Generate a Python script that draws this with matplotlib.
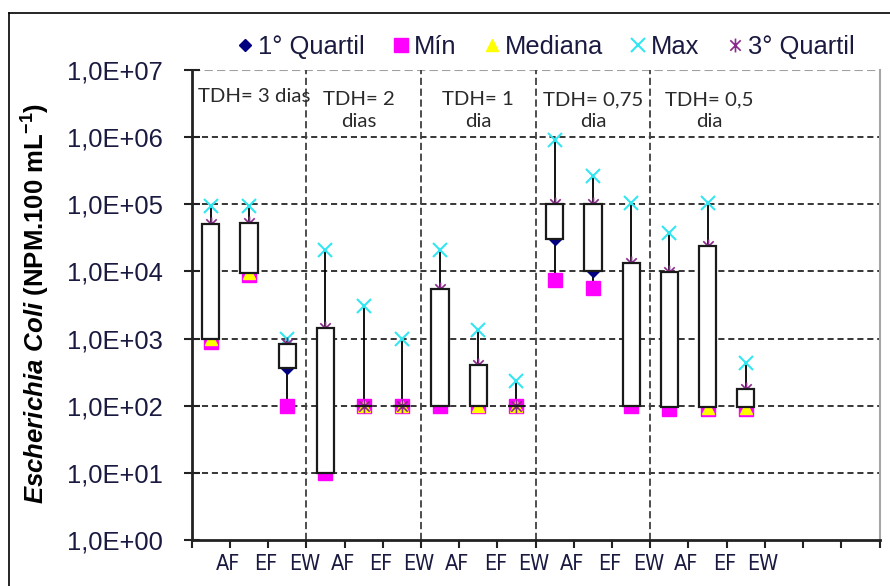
import numpy as np
import matplotlib.pyplot as plt
from matplotlib import font_manager
from matplotlib.path import Path
from matplotlib.patches import Rectangle
from matplotlib.lines import Line2D
from matplotlib.ticker import FixedLocator, FuncFormatter, NullLocator

plt.rcParams['font.family'] = ['Liberation Sans', 'DejaVu Sans']
plt.rcParams['mathtext.fontset'] = 'custom'
plt.rcParams['mathtext.rm'] = 'Liberation Sans'
plt.rcParams['mathtext.bf'] = 'Liberation Sans:bold'
plt.rcParams['mathtext.bfit'] = 'Liberation Sans:italic:bold'

# data (NPM.100 mL-1)
categories = ['AF', 'EF', 'EW'] * 5
groups = ['TDH= 3 dias', 'TDH= 2\ndias', 'TDH= 1\ndia', 'TDH= 0,75\ndia', 'TDH= 0,5\ndia']
q1 = [1000, 9600, 360, 10, 100, 100, 100, 100, 100, 3.0e4, 1.0e4, 100, 95, 95, 95]
min_v = [900, 8800, 100, 10, 100, 100, 100, 100, 100, 7.4e3, 5.6e3, 100, 90, 90, 90]
median = [1000, 9400, 500, 100, 100, 100, 1000, 100, 100, 5e4, 3e4, 1000, 1000, 92, 92]
max_v = [9.5e4, 9.5e4, 1.0e3, 2.1e4, 3.1e3, 9.8e2, 2.1e4, 1.35e3, 2.3e2,
         9.1e5, 2.6e5, 1.03e5, 3.8e4, 1.03e5, 4.3e2]
q3 = [5.0e4, 5.3e4, 8.2e2, 1.45e3, 100, 100, 5.4e3, 4.1e2, 100,
      1.0e5, 1.0e5, 1.35e4, 9.8e3, 2.4e4, 1.75e2]

# condensed font for the x labels if there is one
fonts = font_manager.fontManager.ttflist
if any(f.name == 'Liberation Sans Narrow' for f in fonts):
    xlab_font = dict(family='Liberation Sans Narrow', size=19)
elif any(f.name == 'DejaVu Sans' and f.stretch == 'condensed' for f in fonts):
    xlab_font = dict(family='DejaVu Sans', stretch='condensed', size=15.5)
else:
    xlab_font = dict(family='Liberation Sans', size=15)

W, H = 890, 586
fig = plt.figure(figsize=(W / 100, H / 100), dpi=100)
ax = fig.add_axes([191.7 / W, 1 - 540 / H, (879.5 - 191.7) / W, 470 / H])

x = np.arange(len(categories)) + 0.5

# whiskers min -> max
ax.vlines(x, min_v, max_v, color='black', lw=1.3, zorder=2)

star = Path([(0, -1), (0, 1), (-0.75, -0.75), (0.75, 0.75), (-0.75, 0.75), (0.75, -0.75)],
            [Path.MOVETO, Path.LINETO] * 3)

h1, = ax.plot(x, q1, ls='none', marker='D', ms=6.5, color='#000080', zorder=3)
h2, = ax.plot(x, min_v, ls='none', marker='s', ms=9.5, color='#FF00FF', zorder=3)
h3, = ax.plot(x, median, ls='none', marker='^', ms=8, color='#FFFF00', zorder=3)
h4, = ax.plot(x, max_v, ls='none', marker='x', ms=10, mew=1.5, color='#33E6F0', zorder=3)
h5, = ax.plot(x, q3, ls='none', marker=star, ms=10, mew=1.2, mfc='none', color='#8B2A8B', zorder=3)

# boxes q1 -> q3
for xi, lo, hi in zip(x, q1, q3):
    ax.add_patch(Rectangle((xi - 0.225, lo), 0.45, hi - lo, fc='white', ec='#1a1a1a',
                           lw=1.6, zorder=4))

ax.set_yscale('log')
ax.set_ylim(1, 1e7)
ax.set_xlim(0, 18)
ax.yaxis.set_major_locator(FixedLocator([10.0 ** k for k in range(8)]))
ax.yaxis.set_minor_locator(NullLocator())
ax.yaxis.set_major_formatter(FuncFormatter(lambda v, p: '1,0E+%02d' % int(round(np.log10(v)))))
ax.tick_params(axis='y', which='major', direction='inout', length=12, width=1.5,
               labelsize=18.4, pad=15, colors='#222222', labelcolor='#1a1a40')

ax.set_xticks(np.arange(19))
ax.set_xticklabels([])
ax.set_xticks(np.arange(1, 16) - 0.05, categories, minor=True)
ax.tick_params(axis='x', which='major', direction='out', length=6, width=1.5, color='#222222')
ax.tick_params(axis='x', which='minor', length=0, pad=10, labelcolor='#1a1a40')
for lab in ax.get_xticklabels(minor=True):
    lab.set_fontfamily(xlab_font['family'])
    lab.set_fontsize(xlab_font['size'])
    if 'stretch' in xlab_font:
        lab.set_fontstretch(xlab_font['stretch'])

for s in ['left', 'bottom']:
    ax.spines[s].set_linewidth(2)
    ax.spines[s].set_color('#222222')
ax.spines['right'].set_color('#a6a6a6')
ax.spines['right'].set_linewidth(1.5)
ax.spines['top'].set_visible(False)

ax.hlines([10.0 ** k for k in range(1, 7)], 0, 18, colors='black', lw=1.1,
          linestyles=(0, (4, 2.5)), zorder=1)
ax.hlines([1e7], 0, 18, colors='#a0a0a0', lw=1.5, linestyles=(0, (4, 2)), zorder=1)
ax.vlines([3, 6, 9, 12], 1, 1e7, colors='#404040', lw=1.3, linestyles=(0, (4, 2)), zorder=1)

# TDH labels
tx = [0.16, 4.38, 7.49, 10.5, 13.54]
for i, (t, xt) in enumerate(zip(groups, tx)):
    ax.text(xt, 0.943 if i == 0 else 0.914, t, transform=ax.get_xaxis_transform(),
            ha='left' if i == 0 else 'center', va='center', multialignment='center',
            fontsize=14.7, family=['Lato', 'DejaVu Sans'], color='#2a2a2a', linespacing=1.3)

fig.text(35 / W, 1 - 303 / H,
         r'$\mathbfit{Escherichia\ Coli}$ (NPM.100 mL$^{\mathbf{-1}}$)',
         rotation=90, ha='center', va='center', fontsize=18.5, fontweight='bold')

fig.legend([h1, h2, h3, h4, h5], ['1° Quartil', 'Mín', 'Mediana', 'Max', '3° Quartil'],
           loc='center', bbox_to_anchor=(545 / W, 1 - 47 / H), ncol=5, frameon=False,
           fontsize=18.4, handletextpad=0.1, columnspacing=1.0, handlelength=0.8,
           numpoints=1, labelcolor='#1a1a40')

# outer frame of the chart
fig.add_artist(Line2D([9 / W, 9 / W], [0, 1 - 13 / H], color='black', lw=1.2))
fig.add_artist(Line2D([9 / W, 1], [1 - 13 / H, 1 - 13 / H], color='black', lw=1.2))

fig.savefig('out.png', dpi=100)
